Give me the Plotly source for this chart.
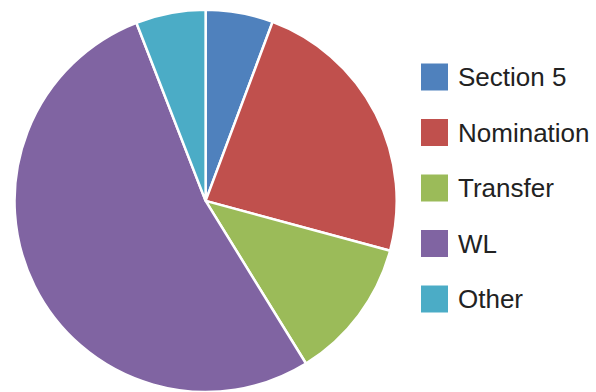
import plotly.graph_objects as go

labels = ["Section 5", "Nomination", "Transfer", "WL", "Other"]
values = [5.7, 23.5, 12.0, 52.9, 5.9]
colors = ["#4F81BD", "#C0504D", "#9BBB59", "#8064A2", "#4BACC6"]

W, H = 596, 392

fig = go.Figure(go.Pie(
    labels=labels, values=values, sort=False, direction="clockwise", rotation=0,
    marker=dict(colors=colors, line=dict(color="white", width=2.5)),
    textinfo="none", hoverinfo="label+percent",
    domain=dict(x=[0.023, 0.667], y=[0.0, 0.975]),
    showlegend=False,
))

# custom legend
row0, step = 77, 55.5
sq = 27
for i, (lab, col) in enumerate(zip(labels, colors)):
    yc = row0 + i * step
    fig.add_shape(type="rect", xref="paper", yref="paper",
                  x0=421 / W, x1=(421 + sq) / W,
                  y0=1 - (yc + sq / 2) / H, y1=1 - (yc - sq / 2) / H,
                  fillcolor=col, line=dict(width=0))
    fig.add_annotation(xref="paper", yref="paper", x=456 / W, y=1 - yc / H,
                       text=lab, showarrow=False, xanchor="left", yanchor="middle",
                       font=dict(family="Liberation Sans, Arial, sans-serif", size=26, color="#222222"))

fig.update_layout(width=W, height=H, margin=dict(l=0, r=0, t=0, b=0),
                  paper_bgcolor="white", plot_bgcolor="white")
fig.write_html("out.html")
